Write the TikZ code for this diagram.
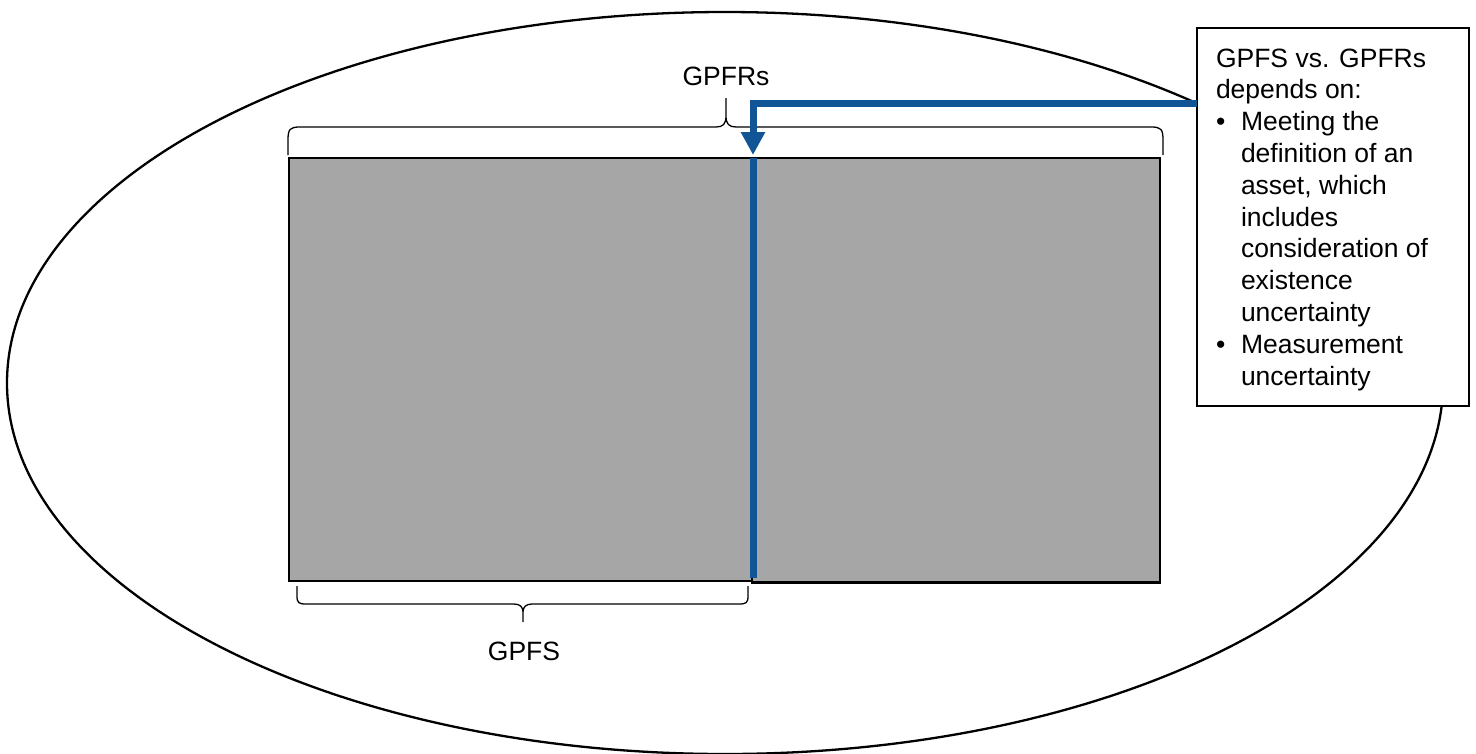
\documentclass[tikz,border=0pt]{standalone}
\usepackage{fontspec}
\setmainfont{Liberation Sans}
\usetikzlibrary{arrows.meta}
\definecolor{flowblue}{RGB}{17,85,150}
\definecolor{panelgray}{RGB}{166,166,166}
\begin{document}
\begin{tikzpicture}[x=1pt,y=-1pt,
  outline/.style={draw=black,line width=2.3pt},
  panel/.style={draw=black,line width=2.8pt,fill=panelgray,inner sep=0pt,outer sep=0pt,anchor=north west},
  bracepath/.style={draw=black,line width=1.3pt},
  blueline/.style={draw=flowblue,line width=7pt,line join=miter},
  notebox/.style={draw=black,line width=1.6pt,fill=white,minimum width=272pt,minimum height=378pt,inner sep=0pt,outer sep=0pt,anchor=north west},
  lbl/.style={font=\fontsize{26.5}{31.8}\selectfont,inner sep=0pt,outer sep=0pt}]
\useasboundingbox (0,0) rectangle (1476,753);
% outer ellipse
\draw[outline] (725,383) ellipse [x radius=718, y radius=371];
% grey panels
\node[panel, minimum width=408pt, minimum height=424.5pt] (gpfrspart) at (752,158) {};
\node[panel, minimum width=463pt, minimum height=423pt] (gpfs) at (289,158) {};
% top brace (GPFRs)
\draw[bracepath] (288,155) -- (288,140) .. controls (288,129) and (290,127) .. (300,127)
  -- (716,127) .. controls (723,127) and (726,124) .. (726,116) -- (726,98)
  -- (726,116) .. controls (726,124) and (729,127) .. (736,127)
  -- (1151,127) .. controls (1161,127) and (1163,129) .. (1163,140) -- (1163,155);
% bottom brace (GPFS)
\draw[bracepath] (297,586) -- (297,596) .. controls (297,603) and (299,604) .. (306,604)
  -- (514,604) .. controls (520,604) and (523,607) .. (523,612) -- (523,622)
  -- (523,612) .. controls (523,607) and (526,604) .. (532,604)
  -- (739,604) .. controls (746,604) and (748,603) .. (748,596) -- (748,586);
% labels
\node[lbl, anchor=base] (gpfrslbl) at (726,85) {GPFRs};
\node[lbl, anchor=base] (gpfslbl) at (524,660) {GPFS};
% note box
\node[notebox] (note) at (1197,28) {};
\node[lbl, anchor=north west, align=left] (notetext) at (1216,48.5)
  {GPFS vs. GPFRs\\
   depends on:\\
   \makebox[25pt][l]{\textbullet}Meeting the\\
   \hspace*{25pt}definition of an\\
   \hspace*{25pt}asset, which\\
   \hspace*{25pt}includes\\
   \hspace*{25pt}consideration of\\
   \hspace*{25pt}existence\\
   \hspace*{25pt}uncertainty\\
   \makebox[25pt][l]{\textbullet}Measurement\\
   \hspace*{25pt}uncertainty};
% blue connector and divider
\coordinate (tip) at (753,155);
\coordinate (bend) at (753,103);
\draw[blueline, -{Triangle[width=23pt,length=23pt]}] (bend -| note.west) -- (bend) -- (tip);
\draw[blueline] (753,158) -- (753,578);
\end{tikzpicture}
\end{document}
